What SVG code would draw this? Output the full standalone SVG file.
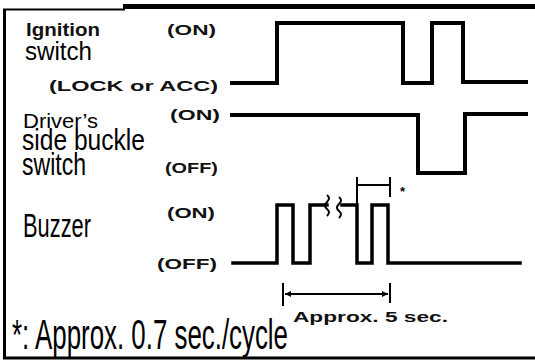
<svg xmlns="http://www.w3.org/2000/svg" width="535" height="361" viewBox="0 0 535 361">
<defs>
<style>
.frame{fill:none;stroke:#000}
.wave{fill:none;stroke:#000;stroke-width:4;stroke-linejoin:miter;stroke-linecap:square}
.thin{fill:none;stroke:#000;stroke-width:2}
.lbl{font-family:"Liberation Sans Narrow","Liberation Sans",Arial,sans-serif;fill:#000}
.st{font-family:"Liberation Sans",Arial,sans-serif;font-weight:bold;fill:#111}
</style>
<marker id="ah" viewBox="0 0 10 10" refX="10" refY="5" markerWidth="9" markerHeight="6" orient="auto-start-reverse" markerUnits="userSpaceOnUse"><path d="M0,0 L10,5 L0,10 z" fill="#000"/></marker>
</defs>
<rect x="0" y="0" width="535" height="361" fill="#fff"/>
<g id="frame">
<line class="frame" x1="4.5" y1="9" x2="4.5" y2="359" stroke-width="3"/>
<line class="frame" x1="3" y1="358" x2="535" y2="358" stroke-width="3"/>
<line class="frame" x1="3" y1="9.5" x2="125" y2="9.5" stroke-width="2"/>
<line class="frame" x1="123" y1="6.5" x2="535" y2="6.5" stroke-width="5"/>
</g>
<g id="ignition">
<text class="st" x="26" y="36" font-size="18" font-weight="normal" fill="#333" textLength="74" lengthAdjust="spacingAndGlyphs">Ignition</text>
<text class="lbl" x="25" y="60" font-size="26" textLength="67" lengthAdjust="spacingAndGlyphs">switch</text>
<text class="st" x="167" y="35" font-size="14" textLength="49" lengthAdjust="spacingAndGlyphs">(ON)</text>
<text class="st" x="49" y="91" font-size="14" textLength="169" lengthAdjust="spacingAndGlyphs">(LOCK or ACC)</text>
<path class="wave" d="M232,83 H277 V23 H403 V83 H432 V23 H463 V82 H526"/>
</g>
<g id="buckle">
<text class="lbl" x="23" y="128" font-size="21" textLength="75" lengthAdjust="spacingAndGlyphs">Driver’s</text>
<text class="lbl" x="22" y="150" font-size="30" textLength="123" lengthAdjust="spacingAndGlyphs">side buckle</text>
<text class="lbl" x="22" y="175" font-size="31" textLength="64" lengthAdjust="spacingAndGlyphs">switch</text>
<text class="st" x="170" y="120" font-size="14" textLength="50" lengthAdjust="spacingAndGlyphs">(ON)</text>
<text class="st" x="165" y="173" font-size="14" textLength="53" lengthAdjust="spacingAndGlyphs">(OFF)</text>
<path class="wave" d="M232,115 H418 V173 H465 V114 H526"/>
</g>
<g id="buzzer">
<text class="lbl" x="23" y="237" font-size="33" textLength="68" lengthAdjust="spacingAndGlyphs">Buzzer</text>
<text class="st" x="167" y="218" font-size="15" font-weight="600" textLength="48" lengthAdjust="spacingAndGlyphs">(ON)</text>
<text class="st" x="157" y="269" font-size="15" font-weight="600" textLength="60" lengthAdjust="spacingAndGlyphs">(OFF)</text>
<path class="wave" style="stroke-width:3.5" d="M233,263 H277 V205 H293 V263 H310 V205 H327"/>
<path class="wave" style="stroke-width:3.5" d="M342,205 H357 V263 H372 V205 H388 V263 H520"/>
<path class="thin" d="M327,195 q4,3 0,7 q-4,4 0,7 q4,3 0,7"/>
<path class="thin" d="M339,197 q4,3 0,7 q-4,4 0,7 q4,3 0,7"/>
</g>
<g id="connectors">
<path class="thin" d="M357,177 V205 M390,177 V197 M357,185 H390"/>
<text x="400" y="196" font-family="Liberation Sans, Arial, sans-serif" font-size="13" font-weight="bold">*</text>
<path class="thin" d="M283,283 V306 M390,283 V303"/>
<line class="thin" x1="285" y1="294" x2="388" y2="294" marker-start="url(#ah)" marker-end="url(#ah)"/>
<text class="st" x="293" y="322" font-size="15" textLength="155" lengthAdjust="spacingAndGlyphs">Approx.  5  sec.</text>
</g>
<g id="footnote">
<text class="lbl" x="12" y="349" font-size="42" textLength="276" lengthAdjust="spacingAndGlyphs">*: Approx. 0.7 sec./cycle</text>
</g>
</svg>
